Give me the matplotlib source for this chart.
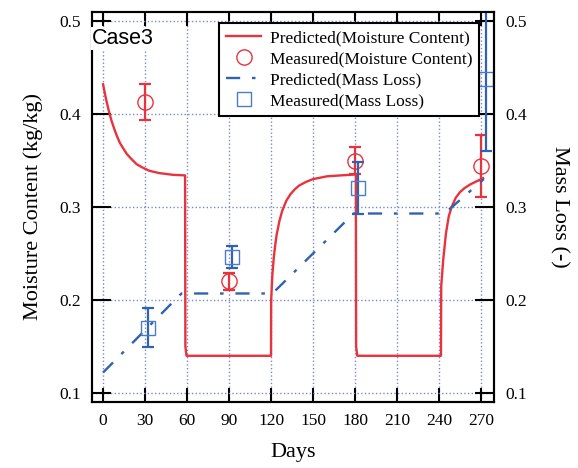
import matplotlib
matplotlib.use("Agg")
import matplotlib.pyplot as plt
from matplotlib.lines import Line2D

plt.rcParams['font.family'] = ['Liberation Serif', 'DejaVu Serif']

# predicted moisture content (kg/kg)
mc_days = [0, 2, 4, 6, 8, 10, 12, 14, 17, 20, 24, 28, 33, 40, 50, 58.6,
           58.8, 59.6, 120,
           120.1, 121, 122, 123, 124, 126, 128, 131, 134, 137, 140, 145, 150, 160, 170, 180.6,
           180.8, 181.6, 241.4,
           241.6, 243, 245, 247, 249, 252, 255, 258, 262, 266, 271.5]
mc_pred = [0.432, 0.417, 0.404, 0.393, 0.384, 0.376, 0.369, 0.364, 0.357, 0.352, 0.346, 0.3426, 0.339, 0.3365, 0.3346, 0.334,
           0.15, 0.14, 0.14,
           0.20, 0.228, 0.246, 0.259, 0.27, 0.285, 0.296, 0.307, 0.314, 0.319, 0.323, 0.327, 0.33, 0.333, 0.334, 0.335,
           0.15, 0.14, 0.14,
           0.215, 0.243, 0.272, 0.29, 0.30, 0.31, 0.316, 0.32, 0.324, 0.327, 0.331]

# predicted mass loss (-)
ml_days = [0, 56, 121, 179, 244, 272]
ml_pred = [0.122, 0.207, 0.207, 0.293, 0.293, 0.33]

# measurements with error bars
mc_meas_days = [30, 90, 180, 270]
mc_meas = [0.413, 0.220, 0.350, 0.344]
mc_err = [0.019, 0.009, 0.015, 0.033]

ml_meas_days = [32, 92, 182, 273.5]
ml_meas = [0.170, 0.246, 0.320, 0.438]
ml_err = [0.021, 0.012, 0.028, 0.078]

red = '#e8333c'
blue = '#2f62b3'
blue_sq = '#4b7bc6'

fig = plt.figure(figsize=(5.78, 4.68), dpi=100)
ax = fig.add_axes([92/578, 66/468, 402/578, 390/468])
ax2 = ax.twinx()

ax.plot(mc_days, mc_pred, color=red, lw=1.7, zorder=3)
ax.errorbar(mc_meas_days, mc_meas, yerr=mc_err, fmt='none', ecolor=red,
            elinewidth=1.6, capsize=4.5, capthick=1.6, zorder=4)
ax.plot(mc_meas_days, mc_meas, 'o', ms=11, mfc='none', mec=red, mew=1.0, zorder=4)

ax2.plot(ml_days, ml_pred, color=blue, lw=1.7, dashes=(6, 5, 1.5, 5))
ax2.errorbar(ml_meas_days, ml_meas, yerr=ml_err, fmt='none', ecolor=blue,
             elinewidth=1.6, capsize=4.5, capthick=1.6)
ax2.plot(ml_meas_days, ml_meas, 's', ms=10, mfc='none', mec=blue_sq, mew=1.0)

for a in (ax, ax2):
    a.set_xlim(-7.9, 279.3)
    a.set_ylim(0.0903, 0.5097)
    a.set_yticks([0.1, 0.2, 0.3, 0.4, 0.5])
    a.set_yticklabels(['0.1', '0.2', '0.3', '0.4', '0.5'])
    for s in a.spines.values():
        s.set_linewidth(1.5)

ax.set_xticks(range(0, 271, 30))
ax.grid(True, color='#7888cc', linestyle=':', linewidth=1.0)
ax.tick_params(axis='x', direction='in', length=10, width=1.5, top=True,
               labelsize=12.5, pad=8)
ax.tick_params(axis='y', direction='in', length=14, width=1.5, right=False,
               labelsize=12.5, pad=8)
ax2.tick_params(axis='y', direction='in', length=14, width=1.5,
                labelsize=12.5, pad=8)

ax.set_xlabel('Days', fontsize=16, labelpad=10)
ax.set_ylabel('Moisture Content (kg/kg)', fontsize=16, labelpad=12)
ax2.set_ylabel('Mass Loss (-)', fontsize=16, rotation=270, labelpad=30)

ax2.text(-7.9, 0.481, 'Case3', family='Liberation Sans', fontsize=15.5,
         ha='left', va='center', zorder=10, clip_on=False,
         bbox=dict(facecolor='white', edgecolor='none', pad=1))

handles = [
    Line2D([], [], color=red, lw=1.7),
    Line2D([], [], ls='none', marker='o', ms=11, mfc='none', mec=red, mew=1.0),
    Line2D([], [], color=blue, lw=1.7, dashes=(6, 5, 1.5, 5)),
    Line2D([], [], ls='none', marker='s', ms=10, mfc='none', mec=blue_sq, mew=1.0),
]
labels = ['Predicted(Moisture Content)', 'Measured(Moisture Content)',
          'Predicted(Mass Loss)', 'Measured(Mass Loss)']
leg = ax2.legend(handles, labels, loc='upper right', bbox_to_anchor=(0.963, 0.972),
                 borderaxespad=0, fontsize=12.5, fancybox=False, framealpha=1,
                 edgecolor='black', handlelength=2.0, handletextpad=0.5,
                 labelspacing=0.28, borderpad=0.4)
leg.get_frame().set_linewidth(1.5)
leg.set_zorder(20)

fig.savefig('out.png', dpi=100)
